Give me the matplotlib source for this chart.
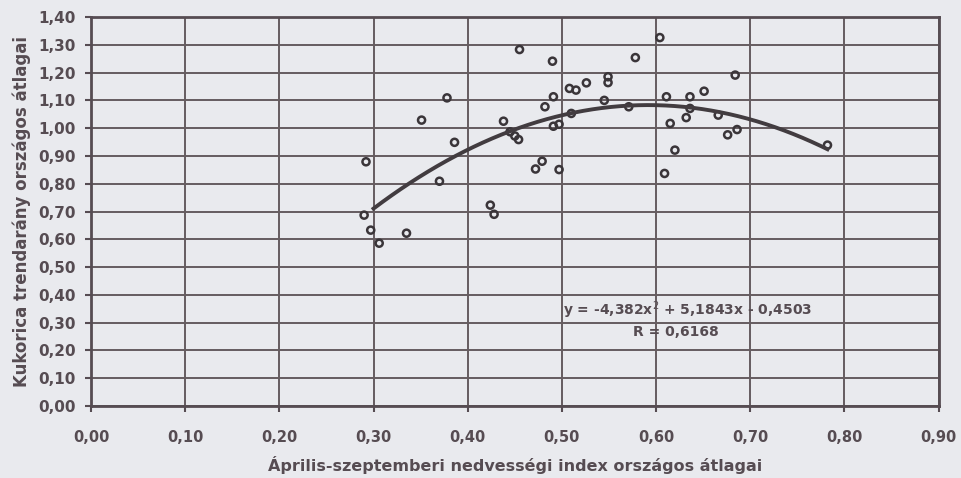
import matplotlib.pyplot as plt
import numpy as np

# Nedvességi index (x) és kukorica trendarány (y) országos átlagai
nedvesseg = [0.292, 0.290, 0.297, 0.306, 0.335, 0.351, 0.370, 0.378, 0.386,
             0.424, 0.428, 0.438, 0.445, 0.450, 0.454, 0.455, 0.472, 0.479,
             0.482, 0.490, 0.491, 0.491, 0.497, 0.497, 0.508, 0.510, 0.515,
             0.526, 0.545, 0.549, 0.549, 0.571, 0.578, 0.604, 0.609, 0.611,
             0.615, 0.620, 0.632, 0.636, 0.636, 0.651, 0.666, 0.676, 0.684,
             0.686, 0.782]
trendarany = [0.879, 0.687, 0.633, 0.586, 0.622, 1.029, 0.809, 1.109, 0.949,
              0.723, 0.690, 1.025, 0.987, 0.972, 0.959, 1.283, 0.853, 0.881,
              1.077, 1.241, 1.113, 1.007, 1.014, 0.851, 1.143, 1.053, 1.137,
              1.163, 1.100, 1.185, 1.164, 1.077, 1.254, 1.326, 0.837, 1.113,
              1.017, 0.921, 1.038, 1.071, 1.113, 1.133, 1.047, 0.976, 1.191,
              0.995, 0.939]

# másodfokú trendvonal együtthatói
a2, a1, a0 = -4.382, 5.1843, -0.4503
egyenlet = "y = -4,382x$^2$ + 5,1843x - 0,4503"
r_szoveg = "R = 0,6168"

x_ticks = np.arange(0, 0.91, 0.1)
y_ticks = np.arange(0, 1.41, 0.1)

bg = '#e9eaee'
ink = '#564c52'

plt.rcParams['font.family'] = ['DejaVu Sans']

fig = plt.figure(figsize=(9.61, 4.78), dpi=100, facecolor=bg)
ax = fig.add_axes([0.0947, 0.1506, 0.882, 0.8138], facecolor=bg)

ax.scatter(nedvesseg, trendarany, s=26, facecolors='none', edgecolors='#3a3539',
           linewidths=1.8, zorder=3)

xs = np.linspace(min(nedvesseg) + 0.01, max(nedvesseg), 200)
ax.plot(xs, a2 * xs ** 2 + a1 * xs + a0, color='#423c40', lw=2.8, zorder=4)

ax.set_xlim(0, 0.9)
ax.set_ylim(0, 1.4)
ax.set_xticks(x_ticks)
ax.set_yticks(y_ticks)
ax.set_xticklabels([f"{v:.2f}".replace('.', ',') for v in x_ticks])
ax.set_yticklabels([f"{v:.2f}".replace('.', ',') for v in y_ticks])
ax.grid(True, color='#655c60', lw=1.4, zorder=1)
ax.set_axisbelow(True)
for sp in ax.spines.values():
    sp.set_color(ink)
    sp.set_linewidth(2)
ax.tick_params(axis='both', colors=ink, length=4, width=1.5, labelsize=11,
               labelcolor=ink)
ax.tick_params(axis='x', pad=13, labelsize=10.5)
ax.tick_params(axis='y', pad=7)
for lbl in ax.get_xticklabels() + ax.get_yticklabels():
    lbl.set_fontweight('bold')

ax.set_xlabel("Április-szeptemberi nedvességi index országos átlagai",
              fontsize=11.5, fontweight='bold', color=ink, labelpad=8)
ax.set_ylabel("Kukorica trendarány országos átlagai",
              fontsize=12, fontweight='bold', color=ink, labelpad=5)

ax.text(0.634, 0.345, egyenlet, ha='center', va='center', fontsize=10,
        fontweight='bold', color=ink, zorder=5)
ax.text(0.621, 0.266, r_szoveg, ha='center', va='center', fontsize=10,
        fontweight='bold', color=ink, zorder=5)

fig.savefig('out.png', dpi=100, facecolor=bg)
